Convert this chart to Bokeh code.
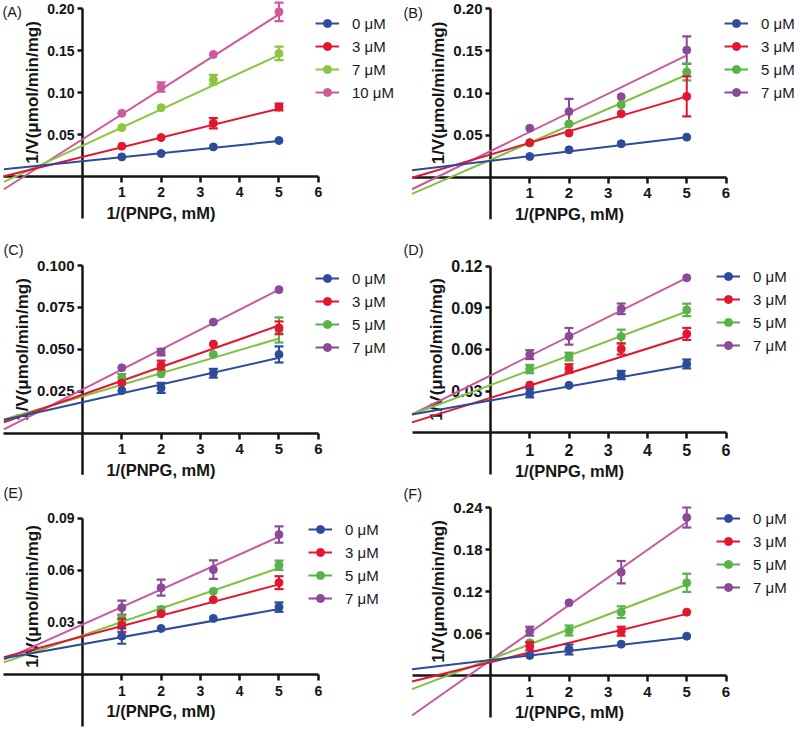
import math
from bokeh.plotting import figure
from bokeh.models import FixedTicker, Legend, LegendItem, Label, ColumnDataSource
from bokeh.layouts import column, row
from bokeh.embed import file_html
from bokeh.resources import INLINE

# ---------------- data ----------------
x_vals = [1, 2, 3.33, 5]              # 1/[PNPG]
fit_x = [-2, 5]                       # extent of the fitted lines
x_ticks = [1, 2, 3, 4, 5, 6]
x_tick_labels = ["1", "2", "3", "4", "5", "6"]

labels_A = ["0 μM", "3 μM", "7 μM", "10 μM"]
labels_BF = ["0 μM", "3 μM", "5 μM", "7 μM"]

# Panel A
a_means = [[0.0234, 0.0274, 0.0353, 0.0429],
           [0.0361, 0.0464, 0.0635, 0.0829],
           [0.0583, 0.0821, 0.1155, 0.1468],
           [0.0754, 0.1067, 0.1456, 0.1964]]
a_errs = [[0, 0, 0, 0],
          [0, 0, 0.0060, 0.0040],
          [0, 0, 0.0056, 0.0080],
          [0, 0.0056, 0, 0.0110]]
a_int = [0.0183, 0.0234, 0.0368, 0.0444]
a_slope = [0.0048, 0.0115, 0.0216, 0.0298]
a_yticks = [0.05, 0.10, 0.15, 0.20]
a_ylabels = ["0.05", "0.10", "0.15", "0.20"]

# Panel B
b_means = [[0.0246, 0.0325, 0.0397, 0.0476],
           [0.0409, 0.0524, 0.0754, 0.0960],
           [0.0409, 0.0634, 0.0861, 0.1250],
           [0.0583, 0.0780, 0.0956, 0.1510]]
b_errs = [[0, 0, 0, 0],
          [0, 0, 0, 0.0237],
          [0, 0, 0, 0.0100],
          [0, 0.0151, 0, 0.0163]]
b_int = [0.0194, 0.0270, 0.0207, 0.0311]
b_slope = [0.0056, 0.0138, 0.0202, 0.0227]
b_yticks = [0.05, 0.10, 0.15, 0.20]
b_ylabels = ["0.05", "0.10", "0.15", "0.20"]

# Panel C
c_means = [[0.0253, 0.0269, 0.0357, 0.0469],
           [0.0299, 0.0405, 0.0531, 0.0628],
           [0.0331, 0.0353, 0.0469, 0.0615],
           [0.0389, 0.0483, 0.0662, 0.0856]]
c_errs = [[0, 0.0030, 0.0026, 0.0048],
          [0, 0.0027, 0, 0.0038],
          [0.0020, 0, 0, 0.0075],
          [0, 0.0020, 0, 0]]
c_int = [0.0184, 0.0229, 0.0219, 0.0260]
c_slope = [0.0053, 0.00826, 0.0069, 0.01192]
c_yticks = [0.025, 0.05, 0.075, 0.1]
c_ylabels = ["0.025", "0.050", "0.075", "0.100"]

# Panel D
d_means = [[0.0286, 0.0342, 0.0416, 0.0496],
           [0.0344, 0.0464, 0.0604, 0.0712],
           [0.0459, 0.0549, 0.0693, 0.0885],
           [0.0563, 0.0695, 0.0893, 0.1116]]
d_errs = [[0.0031, 0, 0.0030, 0.0032],
          [0, 0.0030, 0.0040, 0.0043],
          [0.0030, 0.0028, 0.0050, 0.0045],
          [0.0032, 0.0060, 0.0038, 0]]
d_int = [0.0233, 0.0252, 0.0344, 0.0413]
d_slope = [0.00503, 0.00886, 0.01059, 0.01406]
d_yticks = [0.03, 0.06, 0.09, 0.12]
d_ylabels = ["0.03", "0.06", "0.09", "0.12"]

# Panel E
e_means = [[0.0221, 0.0265, 0.0323, 0.0388],
           [0.0283, 0.0350, 0.0431, 0.0529],
           [0.0320, 0.0375, 0.0479, 0.0629],
           [0.0385, 0.0500, 0.0604, 0.0806]]
e_errs = [[0.0044, 0, 0, 0.0027],
          [0.0038, 0, 0, 0.0037],
          [0.0020, 0.0015, 0, 0.0027],
          [0.0040, 0.0046, 0.0053, 0.0047]]
e_int = [0.0175, 0.0219, 0.0225, 0.0288]
e_slope = [0.00404, 0.0060, 0.00776, 0.0101]
e_yticks = [0.03, 0.06, 0.09]
e_ylabels = ["0.03", "0.06", "0.09"]

# Panel F
f_means = [[0.0286, 0.0371, 0.0448, 0.0562],
           [0.0419, 0.0371, 0.0633, 0.0905],
           [0.0467, 0.0643, 0.0905, 0.1324],
           [0.0633, 0.1038, 0.1476, 0.2257]]
f_errs = [[0, 0.0071, 0, 0],
          [0.0060, 0, 0.0064, 0],
          [0, 0.0071, 0.0083, 0.0130],
          [0.0064, 0, 0.0160, 0.0143]]
f_int = [0.0221, 0.0190, 0.0232, 0.0218]
f_slope = [0.00654, 0.01381, 0.02136, 0.03944]
f_yticks = [0.06, 0.12, 0.18, 0.24]
f_ylabels = ["0.06", "0.12", "0.18", "0.24"]

# ---------------- styles ----------------
BLUE = "#2D4B9B"
RED = "#E3162F"
GREEN_A = "#8CC63F"
PINK_A = "#D0589B"
GREEN = "#57B247"
GREEN_LINE = "#7EC242"
PURPLE = "#8B4A97"
PINK = "#C9599F"

colors_A = dict(marker=[BLUE, RED, GREEN_A, PINK_A], line=[BLUE, RED, GREEN_A, PINK_A])
colors_BF = dict(marker=[BLUE, RED, GREEN, PURPLE], line=[BLUE, RED, GREEN_LINE, PINK])

FONT = "Liberation Sans"
AXC = "#151515"
NAN = float("nan")

LEFT_XR = (-2.0865, 8.0916)
RIGHT_XR = (-2.293, 7.898)

panels = [
    dict(tag="(A)", means=a_means, errs=a_errs, b=a_int, m=a_slope, yt=a_yticks, yl=a_ylabels,
         ymin=-0.05, ymax=0.20, xr=LEFT_XR, yr=(-0.07633, 0.2099), w=400, h=240, names=labels_A,
         col=colors_A, leg=(315, 138), tagpos=(2, -11.5), tfs="14px"),
    dict(tag="(B)", means=b_means, errs=b_errs, b=b_int, m=b_slope, yt=b_yticks, yl=b_ylabels,
         ymin=-0.05, ymax=0.20, xr=RIGHT_XR, yr=(-0.07518, 0.2099), w=400, h=240, names=labels_BF,
         col=colors_BF, leg=(324, 138), tagpos=(3, -12), tfs="15px"),
    dict(tag="(C)", means=c_means, errs=c_errs, b=c_int, m=c_slope, yt=c_yticks, yl=c_ylabels,
         ymin=-0.025, ymax=0.10, xr=LEFT_XR, yr=(-0.03015, 0.11493), w=400, h=243, names=labels_BF,
         col=colors_BF, leg=(315, 126), tagpos=(3, -9), tfs="15px"),
    dict(tag="(D)", means=d_means, errs=d_errs, b=d_int, m=d_slope, yt=d_yticks, yl=d_ylabels,
         ymin=-0.03, ymax=0.12, xr=RIGHT_XR, yr=(-0.03652, 0.13851), w=400, h=243, names=labels_BF,
         col=colors_BF, leg=(316, 128), tagpos=(3, -9), tfs="16px"),
    dict(tag="(E)", means=e_means, errs=e_errs, b=e_int, m=e_slope, yt=e_yticks, yl=e_ylabels,
         ymin=-0.03, ymax=0.09, xr=LEFT_XR, yr=(-0.03224, 0.10998), w=400, h=247, names=labels_BF,
         col=colors_BF, leg=(308, 122), tagpos=(3, -9), tfs="14px"),
    dict(tag="(F)", means=f_means, errs=f_errs, b=f_int, m=f_slope, yt=f_yticks, yl=f_ylabels,
         ymin=-0.06, ymax=0.24, xr=RIGHT_XR, yr=(-0.07857, 0.27429), w=400, h=247, names=labels_BF,
         col=colors_BF, leg=(316, 133), tagpos=(3, -10), tfs="15px"),
]


def make_panel(cfg):
    p = figure(width=cfg["w"], height=cfg["h"], x_range=cfg["xr"], y_range=cfg["yr"],
               output_backend="svg", toolbar_location=None, min_border=0)
    p.outline_line_color = None
    p.xgrid.visible = False
    p.ygrid.visible = False
    p.background_fill_color = "white"
    p.border_fill_color = "white"

    xa = p.xaxis[0]
    ya = p.yaxis[0]
    xa.fixed_location = 0
    ya.fixed_location = 0
    xa.bounds = (-2, 6)
    ya.bounds = (0, cfg["ymax"])
    xa.ticker = FixedTicker(ticks=x_ticks)
    xa.major_label_overrides = {float(t): s for t, s in zip(x_ticks, x_tick_labels)}
    ya.ticker = FixedTicker(ticks=cfg["yt"])
    ya.major_label_overrides = {float(t): s for t, s in zip(cfg["yt"], cfg["yl"])}
    for ax in (xa, ya):
        ax.level = "underlay"
        ax.axis_line_width = 2.5
        ax.axis_line_color = AXC
        ax.major_tick_line_width = 2.5
        ax.major_tick_line_color = AXC
        ax.major_tick_in = 0
        ax.minor_tick_line_color = None
        ax.major_label_text_font = FONT
        ax.major_label_text_font_style = "bold"
        ax.major_label_text_font_size = cfg["tfs"]
        ax.major_label_text_color = AXC
        ax.axis_label_text_font = FONT
        ax.axis_label_text_font_style = "bold"
        ax.axis_label_text_color = AXC
    xa.major_tick_out = 6
    xa.major_label_standoff = 5
    ya.major_tick_out = 5
    ya.major_label_standoff = 3
    xa.axis_label = "1/(PNPG, mM)"
    xa.axis_label_text_font_size = "16.5px"
    xa.axis_label_standoff = 3
    ya.axis_label = "1/V(μmol/min/mg)"
    ya.axis_label_text_font_size = "17px"
    ya.axis_label_standoff = 2

    # lower (negative) part of the y axis line
    p.segment(x0=[0], y0=[cfg["ymin"]], x1=[0], y1=[0], line_color=AXC, line_width=2.5)

    lcol = cfg["col"]["line"]
    mcol = cfg["col"]["marker"]
    n = len(cfg["means"])
    order = list(range(n))[::-1]

    # fitted lines
    for i in order:
        ys = [cfg["b"][i] + cfg["m"][i] * x for x in fit_x]
        p.line(x=fit_x, y=ys, line_color=lcol[i], line_width=2)

    scat = {}
    for i in order:
        xs_e, lo, hi = [], [], []
        for x, mu, er in zip(x_vals, cfg["means"][i], cfg["errs"][i]):
            if er > 0:
                xs_e.append(x)
                lo.append(mu - er)
                hi.append(mu + er)
        if xs_e:
            src = ColumnDataSource(dict(x=xs_e, lo=lo, hi=hi))
            p.segment(x0="x", y0="lo", x1="x", y1="hi", source=src, line_color=mcol[i], line_width=2)
            p.scatter(x="x", y="hi", source=src, marker="dash", size=9, line_color=mcol[i], line_width=2.2)
            p.scatter(x="x", y="lo", source=src, marker="dash", size=9, line_color=mcol[i], line_width=2.2)
        scat[i] = p.scatter(x=x_vals, y=cfg["means"][i], marker="circle", size=8,
                            fill_color=mcol[i], line_color=mcol[i])

    # legend (line + dot, in the series colour)
    items = []
    for i in range(n):
        lr = p.line(x=[NAN, NAN], y=[NAN, NAN], line_color=mcol[i], line_width=2)
        items.append(LegendItem(label=cfg["names"][i], renderers=[lr, scat[i]]))
    leg = Legend(items=items, location=cfg["leg"], border_line_color=None,
                 background_fill_alpha=0, padding=0, margin=0, spacing=3,
                 glyph_width=24, glyph_height=20, label_height=20, label_standoff=13,
                 label_text_font=FONT, label_text_font_size="15px", label_text_color="#1a1a1a")
    p.add_layout(leg)

    # panel tag
    p.add_layout(Label(x=cfg["xr"][0], y=cfg["yr"][1], x_offset=cfg["tagpos"][0], y_offset=cfg["tagpos"][1],
                       text=cfg["tag"], text_align="left", text_baseline="middle",
                       text_font=FONT, text_font_size="14.5px", text_color="#1a1a1a"))
    return p


figs = [make_panel(c) for c in panels]
layout = column(row(figs[0], figs[1]), row(figs[2], figs[3]), row(figs[4], figs[5]))

open("out.html", "w").write(file_html(layout, INLINE))
